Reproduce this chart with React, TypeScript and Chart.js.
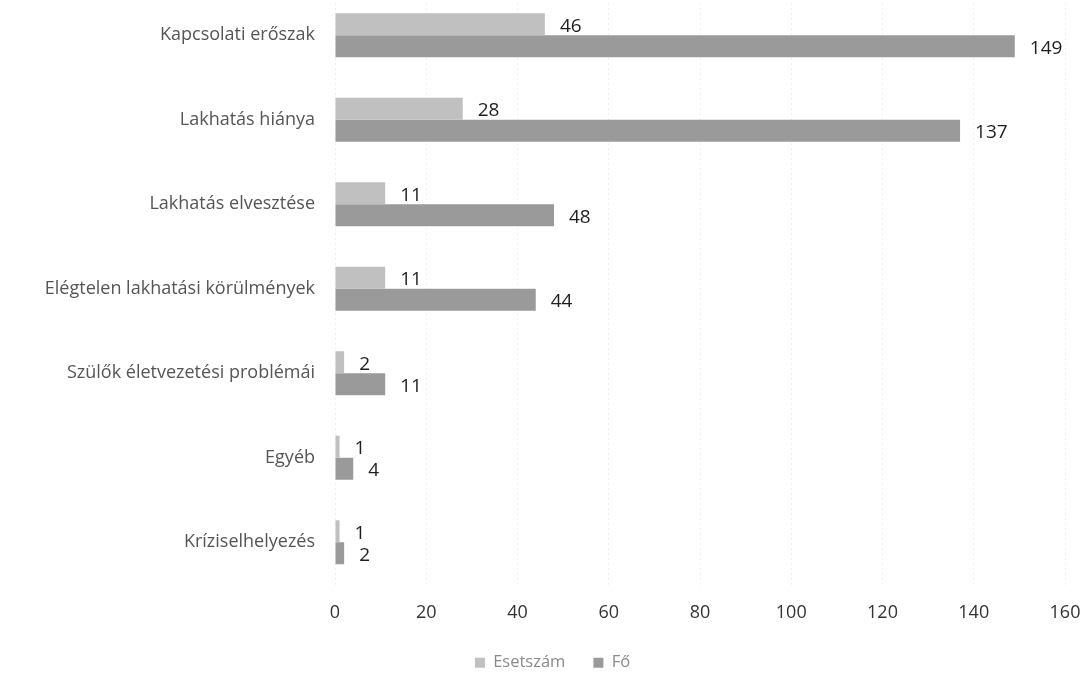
import React, { useEffect, useRef } from "react";
import { Chart, registerables } from "chart.js";

Chart.register(...registerables);

const categories = [
  "Kapcsolati erőszak",
  "Lakhatás hiánya",
  "Lakhatás elvesztése",
  "Elégtelen lakhatási körülmények",
  "Szülők életvezetési problémái",
  "Egyéb",
  "Kríziselhelyezés",
];
const esetszam = [46, 28, 11, 11, 2, 1, 1];
const fo = [149, 137, 48, 44, 11, 4, 2];
const seriesNames = ["Esetszám", "Fő"];
const xMin = 0;
const xMax = 160;
const xStep = 20;

const FONT = "'Open Sans', Lato, sans-serif";

const valueLabels = {
  id: "valueLabels",
  afterDatasetsDraw(chart: any) {
    const ctx = chart.ctx;
    ctx.save();
    ctx.font = `19px ${FONT}`;
    ctx.fillStyle = "#1e1e1e";
    ctx.textAlign = "left";
    ctx.textBaseline = "middle";
    chart.data.datasets.forEach((ds: any, i: number) => {
      const meta = chart.getDatasetMeta(i);
      meta.data.forEach((el: any, j: number) => {
        ctx.fillText(String(ds.data[j]), el.x + 15, el.y + 2);
      });
    });
    ctx.restore();
  },
};

export default function App() {
  const ref = useRef<HTMLCanvasElement | null>(null);
  useEffect(() => {
    if (!ref.current) return;
    const chart = new Chart(ref.current, {
      type: "bar",
      data: {
        labels: categories,
        datasets: [
          {
            label: seriesNames[0],
            data: esetszam,
            backgroundColor: "#c0c0c0",
            categoryPercentage: 0.52,
            barPercentage: 1,
          },
          {
            label: seriesNames[1],
            data: fo,
            backgroundColor: "#9a9a9a",
            categoryPercentage: 0.52,
            barPercentage: 1,
          },
        ],
      },
      options: {
        indexAxis: "y",
        animation: false,
        responsive: true,
        maintainAspectRatio: false,
        layout: { padding: { left: 40, right: 22, top: 0, bottom: 0 } },
        scales: {
          x: {
            min: xMin,
            max: xMax,
            ticks: {
              stepSize: xStep,
              color: "#333",
              font: { family: FONT, size: 18 },
              padding: 18,
            },
            grid: { color: "rgba(0,0,0,0.06)", drawTicks: false },
            border: { display: false, dash: [2, 3] },
            afterFit: (s: any) => {
              s.height = 42;
              s.paddingLeft = 0;
              s.paddingRight = 0;
            },
          },
          y: {
            ticks: {
              color: "#555",
              font: { family: FONT, size: 18 },
              padding: 20,
            },
            grid: { display: false, drawTicks: false },
            border: { display: false },
            afterFit: (s: any) => {
              s.width = 295;
              s.paddingTop = 0;
              s.paddingBottom = 0;
            },
          },
        },
        plugins: {
          legend: {
            position: "bottom",
            labels: {
              boxWidth: 10,
              boxHeight: 10,
              padding: 28,
              color: "#8a8a8a",
              font: { family: FONT, size: 16.5 },
            },
          },
          tooltip: { enabled: false },
        },
      },
      plugins: [valueLabels],
    });
    return () => chart.destroy();
  }, []);
  return (
    <div
      style={{
        position: "fixed",
        top: -7,
        left: 0,
        width: 1087,
        height: 688,
        background: "#fff",
      }}
    >
      <canvas ref={ref} />
    </div>
  );
}
